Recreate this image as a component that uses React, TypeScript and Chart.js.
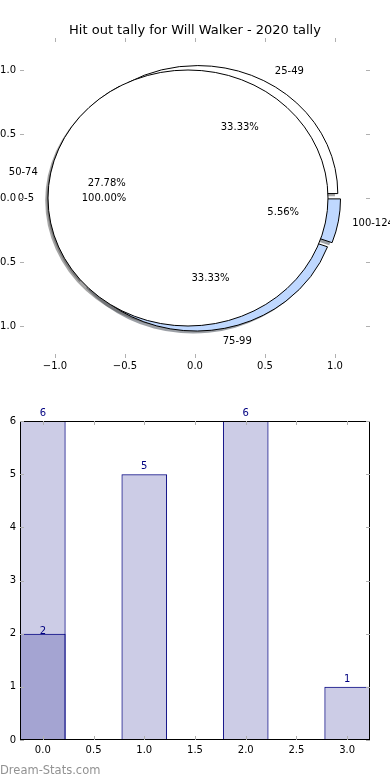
import React, { useEffect, useRef } from 'react';
import { Chart, registerables } from 'chart.js';

Chart.register(...registerables);

// ---------------- data ----------------
const TITLE = 'Hit out tally for Will Walker - 2020 tally';

const pieLabels = ['25-49', '50-74', '75-99', '100-124'];
const pieValues = [6, 5, 6, 1];
const pieColors = ['#ffffff', '#ffffff', '#bfd8ff', '#bfd8ff'];
const pieExplode = [0.04, 0.04, 0.04, 0.04];

const innerLabels = ['0-5'];
const innerValues = [2];
const innerColors = ['#ffffff'];
const innerExplode = [0.05];

const pieTicks = [-1, -0.5, 0, 0.5, 1];
const pieTickLabels = ['\u22121.0', '\u22120.5', '0.0', '0.5', '1.0'];

const barPositions = [0, 1, 2, 3];
const barValues = [6, 5, 6, 1];
const overlayPositions = [0];
const overlayValues = [2];
const barXTicks = [0, 0.5, 1, 1.5, 2, 2.5, 3];
const barXTickLabels = ['0.0', '0.5', '1.0', '1.5', '2.0', '2.5', '3.0'];
const barYTicks = [0, 1, 2, 3, 4, 5, 6];
const barYTickLabels = ['0', '1', '2', '3', '4', '5', '6'];

const FONT = "'DejaVu Sans', 'Liberation Sans', sans-serif";
Chart.defaults.font.family = FONT;
Chart.defaults.font.size = 10;
Chart.defaults.color = '#000';

// ---------------- helpers ----------------
function shadowColor(hex: string) {
  const h = hex.replace('#', '');
  const r = parseInt(h.slice(0, 2), 16);
  const g = parseInt(h.slice(2, 4), 16);
  const b = parseInt(h.slice(4, 6), 16);
  return `rgba(${Math.round(r * 0.3)},${Math.round(g * 0.3)},${Math.round(b * 0.3)},0.5)`;
}

const innerTicksPlugin = {
  id: 'innerTicks',
  afterDraw(chart: any) {
    const { ctx, chartArea: a, scales } = chart;
    const len = 4;
    ctx.save();
    ctx.strokeStyle = '#b0b0b0';
    ctx.lineWidth = 1;
    ctx.beginPath();
    scales.x.ticks.forEach((t: any) => {
      const px = Math.round(scales.x.getPixelForValue(t.value)) + 0.5;
      ctx.moveTo(px, a.bottom);
      ctx.lineTo(px, a.bottom - len);
      ctx.moveTo(px, a.top);
      ctx.lineTo(px, a.top + len);
    });
    scales.y.ticks.forEach((t: any) => {
      const py = Math.round(scales.y.getPixelForValue(t.value)) + 0.5;
      ctx.moveTo(a.left, py);
      ctx.lineTo(a.left + len, py);
      ctx.moveTo(a.right, py);
      ctx.lineTo(a.right - len, py);
    });
    ctx.stroke();
    ctx.restore();
  },
};

const piePlugin = {
  id: 'mplPie',
  afterDatasetsDraw(chart: any) {
    const { ctx, scales } = chart;
    const x = scales.x;
    const y = scales.y;
    const rx = x.getPixelForValue(1) - x.getPixelForValue(0);
    const ry = y.getPixelForValue(0) - y.getPixelForValue(1);
    const pies = [
      { labels: pieLabels, values: pieValues, colors: pieColors, explode: pieExplode },
      { labels: innerLabels, values: innerValues, colors: innerColors, explode: innerExplode },
    ];
    const wedges: any[] = [];
    pies.forEach((p) => {
      const total = p.values.reduce((s, v) => s + v, 0);
      let acc = 0;
      p.values.forEach((v, i) => {
        const t1 = (acc / total) * 2 * Math.PI;
        acc += v;
        const t2 = (acc / total) * 2 * Math.PI;
        const tm = (t1 + t2) / 2;
        wedges.push({
          t1,
          t2,
          tm,
          ox: p.explode[i] * Math.cos(tm),
          oy: p.explode[i] * Math.sin(tm),
          color: p.colors[i],
          label: p.labels[i],
          pct: (v / total) * 100,
          full: v === total,
        });
      });
    });
    const path = (w: any, dx: number, dy: number) => {
      const cx = x.getPixelForValue(w.ox + dx);
      const cy = y.getPixelForValue(w.oy + dy);
      ctx.beginPath();
      if (w.full) {
        ctx.ellipse(cx, cy, rx, ry, 0, 0, 2 * Math.PI);
      } else {
        ctx.moveTo(cx, cy);
        ctx.ellipse(cx, cy, rx, ry, 0, -w.t1, -w.t2, true);
        ctx.closePath();
      }
    };
    ctx.save();
    wedges.forEach((w) => {
      path(w, -0.02, -0.02);
      ctx.fillStyle = shadowColor(w.color);
      ctx.fill();
    });
    wedges.forEach((w) => {
      path(w, 0, 0);
      ctx.fillStyle = w.color;
      ctx.fill();
      ctx.lineWidth = 1;
      ctx.strokeStyle = '#000';
      ctx.stroke();
    });
    ctx.fillStyle = '#000';
    ctx.font = `10px ${FONT}`;
    ctx.textBaseline = 'middle';
    wedges.forEach((w) => {
      const c = Math.cos(w.tm);
      const s = Math.sin(w.tm);
      const lxv = w.ox + 1.1 * c;
      ctx.textAlign = lxv > 0 ? 'left' : 'right';
      ctx.fillText(w.label, x.getPixelForValue(lxv), y.getPixelForValue(w.oy + 1.1 * s));
      ctx.textAlign = 'center';
      ctx.fillText(
        w.pct.toFixed(2) + '%',
        x.getPixelForValue(w.ox + 0.6 * c),
        y.getPixelForValue(w.oy + 0.6 * s)
      );
    });
    ctx.restore();
  },
};

const barLabelPlugin = {
  id: 'barLabels',
  afterDatasetsDraw(chart: any) {
    const { ctx } = chart;
    ctx.save();
    ctx.fillStyle = '#000080';
    ctx.font = `10px ${FONT}`;
    ctx.textAlign = 'center';
    ctx.textBaseline = 'alphabetic';
    chart.data.datasets.forEach((ds: any, di: number) => {
      const meta = chart.getDatasetMeta(di);
      meta.data.forEach((el: any, i: number) => {
        const v = ds.data[i].y;
        ctx.fillText(String(v), el.x, el.y - ds.labelGap);
      });
    });
    ctx.restore();
  },
};

const framePlugin = {
  id: 'frame',
  afterDatasetsDraw(chart: any) {
    const { ctx, chartArea: a } = chart;
    ctx.save();
    ctx.strokeStyle = '#000';
    ctx.lineWidth = 1;
    const l = Math.round(a.left) + 0.5;
    const r = Math.round(a.right) - 0.5;
    const t = Math.round(a.top) + 0.5;
    const b = Math.round(a.bottom) - 0.5;
    ctx.strokeRect(l, t, r - l, b - t);
    ctx.restore();
  },
};

// ---------------- components ----------------
function PieChart() {
  const ref = useRef<HTMLCanvasElement>(null);
  useEffect(() => {
    const chart = new Chart(ref.current as HTMLCanvasElement, {
      type: 'scatter',
      data: { datasets: [] },
      options: {
        animation: false,
        responsive: false,
        maintainAspectRatio: false,
        layout: { padding: { left: 0, right: 20, top: 0, bottom: 0 } },
        plugins: {
          legend: { display: false },
          tooltip: { enabled: false },
          title: {
            display: true,
            fullSize: false,
            text: TITLE,
            color: '#000',
            font: { size: 13, weight: 'normal', family: FONT, lineHeight: 1.1 },
            padding: { top: 23.2, bottom: 0.5 },
          },
        },
        scales: {
          x: {
            type: 'linear',
            min: -1.25,
            max: 1.25,
            grid: { display: false, drawTicks: false },
            border: { display: false },
            afterFit: (s: any) => {
              s.height = 32;
            },
            afterBuildTicks: (s: any) => {
              s.ticks = pieTicks.map((v) => ({ value: v }));
            },
            ticks: {
              padding: 2.5,
              color: '#000',
              maxRotation: 0,
              autoSkip: false,
              callback: (_v: any, i: number) => pieTickLabels[i],
            },
          },
          y: {
            type: 'linear',
            min: -1.25,
            max: 1.25,
            grid: { display: false, drawTicks: false },
            border: { display: false },
            afterFit: (s: any) => {
              s.width = 20;
            },
            afterBuildTicks: (s: any) => {
              s.ticks = pieTicks.map((v) => ({ value: v }));
            },
            ticks: {
              padding: 4,
              color: '#000',
              autoSkip: false,
              callback: (_v: any, i: number) => pieTickLabels[i],
            },
          },
        },
      } as any,
      plugins: [piePlugin, innerTicksPlugin],
    });
    return () => chart.destroy();
  }, []);
  return (
    <canvas
      ref={ref}
      width={390}
      height={390}
      style={{ position: 'absolute', left: 0, top: 0, width: 390, height: 390 }}
    />
  );
}

function BarChart() {
  const ref = useRef<HTMLCanvasElement>(null);
  useEffect(() => {
    const common = {
      backgroundColor: 'rgba(0,0,128,0.2)',
      borderColor: '#000080',
      borderWidth: 1,
      borderSkipped: false,
      grouped: false,
      categoryPercentage: 0.9,
      barPercentage: 1,
    };
    const chart = new Chart(ref.current as HTMLCanvasElement, {
      type: 'bar',
      data: {
        datasets: [
          {
            ...common,
            label: 'tally',
            data: barPositions.map((p, i) => ({ x: p, y: barValues[i] })),
            order: 2,
            labelGap: 5,
          },
          {
            ...common,
            label: '0-5',
            data: overlayPositions.map((p, i) => ({ x: p, y: overlayValues[i] })),
            order: 1,
            labelGap: 0,
          },
        ],
      } as any,
      options: {
        animation: false,
        responsive: false,
        maintainAspectRatio: false,
        layout: { padding: { left: 0, right: 20, top: 31, bottom: 0 } },
        plugins: {
          legend: { display: false },
          tooltip: { enabled: false },
          title: { display: false },
        },
        scales: {
          x: {
            type: 'linear',
            min: -0.225,
            max: 3.225,
            offset: false,
            grid: { display: false, drawTicks: false },
            border: { display: false },
            afterFit: (s: any) => {
              s.height = 40;
            },
            afterBuildTicks: (s: any) => {
              s.ticks = barXTicks.map((v) => ({ value: v }));
            },
            ticks: {
              padding: 4.5,
              color: '#000',
              maxRotation: 0,
              autoSkip: false,
              callback: (_v: any, i: number) => barXTickLabels[i],
            },
          },
          y: {
            type: 'linear',
            min: 0,
            max: 6,
            grid: { display: false, drawTicks: false },
            border: { display: false },
            afterFit: (s: any) => {
              s.width = 20;
            },
            afterBuildTicks: (s: any) => {
              s.ticks = barYTicks.map((v) => ({ value: v }));
            },
            ticks: {
              padding: 4,
              color: '#000',
              autoSkip: false,
              callback: (_v: any, i: number) => barYTickLabels[i],
            },
          },
        },
      } as any,
      plugins: [framePlugin, barLabelPlugin, innerTicksPlugin],
    });
    return () => chart.destroy();
  }, []);
  return (
    <canvas
      ref={ref}
      width={390}
      height={390}
      style={{ position: 'absolute', left: 0, top: 390, width: 390, height: 390 }}
    />
  );
}

export default function App() {
  return (
    <div
      style={{
        position: 'absolute',
        left: 0,
        top: 0,
        width: 390,
        height: 780,
        background: '#fff',
        overflow: 'hidden',
      }}
    >
      <PieChart />
      <BarChart />
      <div
        style={{
          position: 'absolute',
          left: 0,
          top: 764,
          fontFamily: FONT,
          fontSize: 11.5,
          lineHeight: '12px',
          color: '#929292',
          whiteSpace: 'nowrap',
        }}
      >
        Dream-Stats.com
      </div>
    </div>
  );
}
